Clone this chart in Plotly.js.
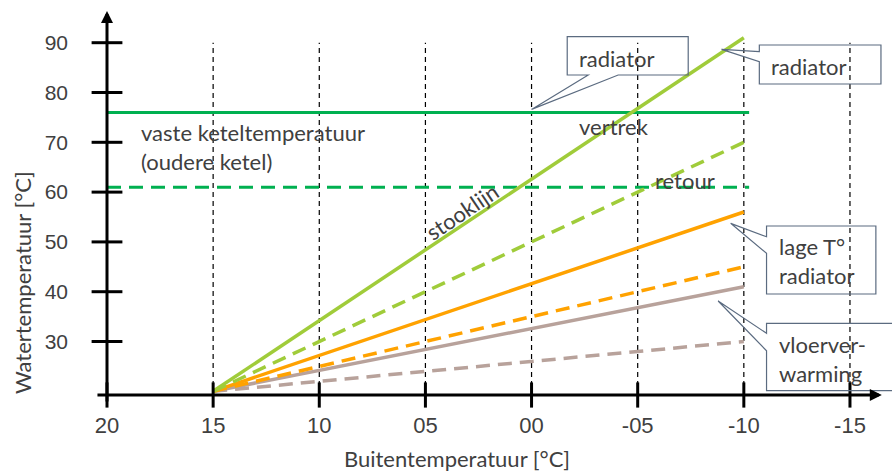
<!DOCTYPE html>
<html><head><meta charset="utf-8">
<script src="https://cdn.plot.ly/plotly-3.0.1.min.js"></script>
<style>html,body{margin:0;padding:0;background:#fff;} #chart{width:892px;height:471px;}</style>
</head><body><div id="chart"></div>
<script>
// ---- data ----
const outdoorX = [15, -10];                 // buitentemperatuur range of heating curves
const radiatorSupply = [20, 91];            // radiator vertrek
const radiatorReturn = [20, 70];            // radiator retour
const lowTSupply = [20, 56];                // lage T° radiator vertrek
const lowTReturn = [20, 45];                // lage T° radiator retour
const floorSupply = [20, 41];               // vloerverwarming vertrek
const floorReturn = [20, 30];               // vloerverwarming retour
const boilerX = [20, -10.25];               // vaste keteltemperatuur span
const boilerSupply = [76, 76];
const boilerReturn = [61, 61];
const xTickVals = [20, 15, 10, 5, 0, -5, -10, -15];
const xTickText = ['20', '15', '10', '05', '00', '-05', '-10', '-15'];
const yTickVals = [30, 40, 50, 60, 70, 80, 90];
const yTickText = ['30', '40', '50', '60', '70', '80', '90'];
const gridX = [15, 10, 5, 0, -5, -10, -15];
const gridTop = 90;

// ---- layout constants ----
const X_RANGE = [20, -16.98];
const Y_RANGE = [19.26, 97.57];
const TXT = '#404040';
const CAL = 'Lato, "Open Sans", sans-serif';
const ARI = '"Liberation Sans", Arial, sans-serif';
const GREEN = '#00B050', LIME = '#A0CC3A', ORANGE = '#FFA200', BROWN = '#B8A29B';
const DASH = '14px,8px';
const CALLOUT = '#5B6B80';
const FS = 22;

function line(x, y, color, dash, w) {
  return {type: 'scatter', mode: 'lines', x: x, y: y, hoverinfo: 'skip',
          line: {color: color, width: w || 3.5, dash: dash || 'solid'}};
}

const traces = [
  line(boilerX, boilerSupply, GREEN, 'solid', 3),
  line(boilerX, boilerReturn, GREEN, DASH, 3),
  line(outdoorX, floorReturn, BROWN, DASH),
  line(outdoorX, floorSupply, BROWN),
  line(outdoorX, lowTReturn, ORANGE, DASH),
  line(outdoorX, lowTSupply, ORANGE),
  line(outdoorX, radiatorReturn, LIME, DASH),
  line(outdoorX, radiatorSupply, LIME),
  {type: 'scatter', mode: 'markers', x: xTickVals, y: xTickVals.map(() => Y_RANGE[0]),
   cliponaxis: false, hoverinfo: 'skip',
   marker: {symbol: 'line-ns', size: 18, line: {color: '#000', width: 3}}},
  {type: 'scatter', mode: 'markers', x: yTickVals.map(() => X_RANGE[0]), y: yTickVals,
   cliponaxis: false, hoverinfo: 'skip',
   marker: {symbol: 'line-ew', size: 22, line: {color: '#000', width: 3}}}
];

const shapes = gridX.map(v => ({type: 'line', xref: 'x', yref: 'y', layer: 'below',
  x0: v, x1: v, y0: Y_RANGE[0], y1: gridTop, line: {color: '#000', width: 1.2, dash: '5px,4px'}}));

function callout(path) {
  return {type: 'path', xref: 'x', yref: 'y', path: path, layer: 'above',
          line: {color: CALLOUT, width: 1.2}, fillcolor: 'rgba(0,0,0,0)'};
}
shapes.push(callout('M -2.67,83.51 L 0,76.6 L -4.08,83.51 L -7.38,83.51 L -7.38,91.2 L -1.68,91.2 L -1.68,83.51 Z'));
shapes.push(callout('M -10.73,88.19 L -8.95,88.67 L -10.73,86.18 L -10.73,81.71 L -16.46,81.71 L -16.46,89.54 L -10.73,89.54 Z'));
shapes.push(callout('M -11.07,51.04 L -9.38,53.73 L -11.07,47.71 L -11.07,39.54 L -16.22,39.54 L -16.22,53.19 L -11.07,53.19 Z'));
shapes.push(callout('M -11.07,31.65 L -8.79,38.13 L -11.07,28.15 L -11.07,20.12 L -17.6,20.12 L -17.6,33.65 L -11.07,33.65 Z'));

function label(text, x, y, opts) {
  return Object.assign({text: text, x: x, y: y, xref: 'x', yref: 'y', showarrow: false,
    xanchor: 'left', yanchor: 'middle', align: 'left',
    font: {family: CAL, size: FS, color: TXT}}, opts || {});
}

const annotations = [
  label('vaste keteltemperatuur<br>(oudere ketel)', 18.49, 68.96),
  label('vertrek', -2.14, 73.27),
  label('retour', -5.72, 62.43),
  label('stooklijn', 3.28, 56.2, {xanchor: 'center', textangle: -34}),
  label('radiator', -2.14, 86.73),
  label('radiator', -11.18, 85.32),
  label('lage T°<br>radiator', -11.56, 46.16),
  label('vloerver-<br>warming', -11.56, 26.59),
  // axis arrows
  {x: -16.5, y: Y_RANGE[0], ax: 20.52, ay: Y_RANGE[0], xref: 'x', yref: 'y', axref: 'x', ayref: 'y',
   text: '', showarrow: true, arrowhead: 2, arrowsize: 0.8, arrowwidth: 3, arrowcolor: '#000'},
  {x: 20, y: 96.37, ax: 20, ay: 17.65, xref: 'x', yref: 'y', axref: 'x', ayref: 'y',
   text: '', showarrow: true, arrowhead: 2, arrowsize: 0.8, arrowwidth: 3, arrowcolor: '#000'},
  // axis titles
  {text: 'Buitentemperatuur [°C]', xref: 'paper', yref: 'paper', x: (457 - 107) / 785, y: -(458 - 395) / 390,
   xanchor: 'center', yanchor: 'middle', showarrow: false, font: {family: CAL, size: FS, color: TXT}},
  {text: 'Watertemperatuur [°C]', xref: 'paper', yref: 'paper', x: -(107 - 22) / 785, y: (395 - 283) / 390,
   xanchor: 'center', yanchor: 'middle', textangle: -90, showarrow: false, font: {family: CAL, size: FS, color: TXT}}
];

const layout = {
  width: 892, height: 471, margin: {l: 107, r: 0, t: 5, b: 76, pad: 0},
  paper_bgcolor: '#fff', plot_bgcolor: '#fff', showlegend: false, hovermode: false,
  xaxis: {range: X_RANGE, showgrid: false, zeroline: false, showline: false, ticks: '',
          tickvals: xTickVals, ticktext: xTickText, ticklabelstandoff: 15,
          tickfont: {family: ARI, size: 22, color: TXT}},
  yaxis: {range: Y_RANGE, showgrid: false, zeroline: false, showline: false, ticks: '',
          tickvals: yTickVals, ticktext: yTickText, ticklabelstandoff: 38,
          tickfont: {family: ARI, size: 21, color: TXT}},
  shapes: shapes, annotations: annotations
};

Plotly.newPlot('chart', traces, layout, {staticPlot: true, displayModeBar: false});
</script></body></html>
